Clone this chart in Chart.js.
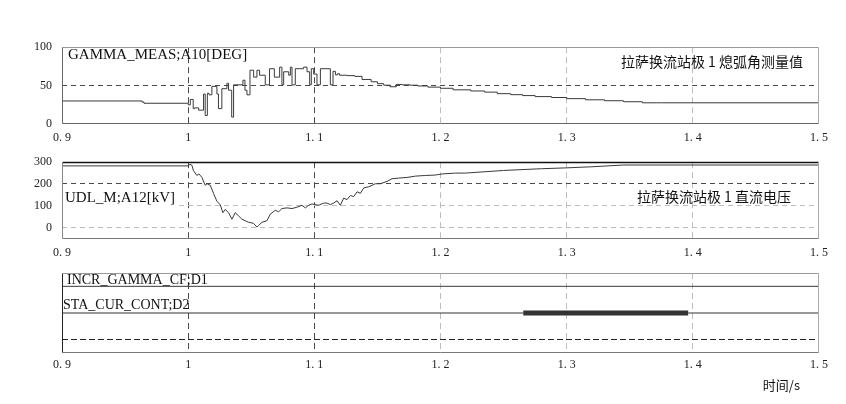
<!DOCTYPE html>
<html>
<head>
<meta charset="utf-8">
<script src="https://cdn.jsdelivr.net/npm/chart.js@4.4.0/dist/chart.umd.min.js"></script>
<style>
  body { margin: 0; background: #fff; }
  #wrap { position: relative; width: 846px; height: 404px; }
  .panel { position: absolute; left: 0; width: 846px; }
</style>
</head>
<body>
<div id="wrap">
  <div class="panel" style="top:30px;height:120px"><canvas id="cGamma"></canvas></div>
  <div class="panel" style="top:145px;height:120px"><canvas id="cUdl"></canvas></div>
  <div class="panel" style="top:260px;height:144px"><canvas id="cDig"></canvas></div>
</div>
<script>
// 横轴 (时间 s)
const xTicks = [0.9, 1.0, 1.1, 1.2, 1.3, 1.4, 1.5];
const xTickLabels = ['0. 9', '1', '1. 1', '1. 2', '1. 3', '1. 4', '1. 5'];

// 熄弧角测量值 GAMMA_MEAS [DEG] (阶梯信号)
const gammaT = [0.900, 0.9635, 0.9650, 1.0000, 1.0017, 1.0040, 1.0050, 1.0083, 1.0122, 1.0135,
                1.0152, 1.0165, 1.0188, 1.0228, 1.0240, 1.0267, 1.0307, 1.0320, 1.0345, 1.0360,
                1.0434, 1.0450, 1.0466, 1.0490, 1.0519, 1.0545, 1.0566, 1.0611, 1.0645, 1.0683,
                1.0725, 1.0743, 1.0757, 1.0797, 1.0810, 1.0823, 1.0849, 1.0915, 1.0942, 1.0963,
                1.0976, 1.0995, 1.1021, 1.1048, 1.1127, 1.1148, 1.1167, 1.1185, 1.1200, 1.1260,
                1.1320, 1.1378, 1.145, 1.150, 1.155, 1.160, 1.165, 1.1696, 1.176, 1.182,
                1.190, 1.200, 1.210, 1.224, 1.235, 1.245, 1.2556, 1.265, 1.275, 1.288,
                1.300, 1.315, 1.330, 1.345, 1.360, 1.375, 1.500];
const gammaV = [28.5, 30, 28.5, 27, 25, 32, 20, 21, 18, 39,
                11, 40, 38, 49, 39, 20, 46, 53, 44, 9,
                51, 57, 44, 38, 70, 61, 70, 63.5, 51, 72,
                61, 74, 51, 68, 63.5, 74, 51, 72, 74, 68,
                51, 72, 65, 51, 72, 51, 68.6, 64, 65.5, 63.5,
                63, 62, 58, 55, 52.5, 50.5, 48.5, 51.5, 51, 50.5,
                49.5, 48, 46.5, 44.5, 43, 41.5, 39.5, 38.2, 37, 35.7,
                34.5, 33, 31.5, 30.3, 29, 27.6, 27.6];
const gammaTicks = [0, 50, 100];

// 直流电压 UDL_M [kV]
const udlT = [0.900, 1.000, 1.0015, 1.003, 1.0042, 1.0069, 1.0085, 1.0108, 1.0135, 1.015,
              1.0175, 1.0201, 1.0228, 1.0254, 1.0275, 1.0294, 1.032, 1.0347, 1.0373, 1.040,
              1.0426, 1.0452, 1.0479, 1.0518, 1.0545, 1.0558, 1.0585, 1.0624, 1.0651, 1.069,
              1.0717, 1.0743, 1.0783, 1.0823, 1.0862, 1.0902, 1.0929, 1.0955, 1.0981, 1.1008,
              1.1034, 1.1074, 1.110, 1.1127, 1.1153, 1.118, 1.1206, 1.1233, 1.1259, 1.1286,
              1.1312, 1.1339, 1.1365, 1.1392, 1.1431, 1.1458, 1.1484, 1.1524, 1.1577, 1.1616,
              1.1669, 1.1735, 1.1802, 1.1881, 1.196, 1.2013, 1.2119, 1.2198, 1.250, 1.280,
              1.300, 1.320, 1.345, 1.500];
const udlV = [283, 283, 290, 286, 261, 239, 246, 231, 194, 201,
              194, 157, 120, 105, 68, 83, 68, 38, 68, 53,
              38, 31, 24, 19, 2, 9, 24, 31, 61, 79,
              72, 87, 90, 87, 93, 102, 90, 102, 108, 105,
              102, 112, 112, 105, 112, 123, 102, 135, 128, 147,
              142, 164, 157, 182, 187, 194, 201, 201, 212, 224,
              227, 230, 236, 239, 241, 246, 250, 250, 262, 270,
              274, 279, 287, 287];
const udlTicks = [0, 100, 200, 300];

// 开关量 D1 / D2
const incrGammaT = [0.9, 1.5];
const incrGammaS = [0, 0];
const staCurT = [0.9, 1.2656, 1.3963, 1.5];
const staCurS = [0, 1, 0, 0];

const serif = "'Liberation Serif', 'Noto Sans CJK SC', serif";
const cjk = "'Noto Sans CJK SC', sans-serif";
const tickFont = { family: serif, size: 12 };
const darkGrid = '#4a4a4a';
const lightGrid = '#bdbdbd';

const pts = (ts, vs) => ts.map((t, i) => ({ x: t, y: vs[i] }));

// 边框
const framePlugin = {
  id: 'frame',
  afterDatasetsDraw(chart, args, o) {
    const { ctx, chartArea: a } = chart;
    const L = Math.round(a.left) + 0.5, R = Math.round(a.right) - 0.5;
    const T = Math.round(a.top) + 0.5, B = Math.round(a.bottom) - 0.5;
    const line = (x1, y1, x2, y2, c, w) => {
      ctx.strokeStyle = c; ctx.lineWidth = w || 1;
      ctx.beginPath(); ctx.moveTo(x1, y1); ctx.lineTo(x2, y2); ctx.stroke();
    };
    ctx.save();
    line(L, T, R, T, o.top || '#999', o.topWidth);
    line(R, T, R, B, o.right || '#aaa');
    line(L, B, R, B, o.bottom || '#777');
    line(L, T, L, B, o.left || '#777');
    ctx.restore();
  }
};

// 面板文字
const textPlugin = {
  id: 'panelText',
  beforeDatasetsDraw(chart, args, o) {
    const { ctx, chartArea: a } = chart;
    ctx.save();
    (o.items || []).forEach(it => {
      ctx.font = it.font;
      ctx.textBaseline = 'middle';
      const w = ctx.measureText(it.text).width;
      const x = it.fromRight ? a.right - it.dx - w : a.left + it.dx;
      const y = a.top + it.dy;
      if (it.bg) {
        ctx.fillStyle = '#fff';
        ctx.fillRect(x - 2, y - 9, w + 4, 18);
      }
      ctx.fillStyle = '#111';
      ctx.textAlign = 'left';
      ctx.fillText(it.text, x, y);
    });
    ctx.restore();
  }
};

function xGridColor(c) {
  const v = c.tick ? c.tick.value : null;
  if (v === null || Math.abs(v - 0.9) < 1e-6 || Math.abs(v - 1.5) < 1e-6) return 'rgba(0,0,0,0)';
  return v < 1.15 ? darkGrid : lightGrid;
}

function xAxis(h, pad) {
  return {
    type: 'linear', min: 0.9, max: 1.5,
    afterBuildTicks: s => { s.ticks = xTicks.map(v => ({ value: v })); },
    afterFit: s => { s.height = h; },
    ticks: { callback: (v, i) => xTickLabels[i], font: tickFont, color: '#222', padding: pad, maxRotation: 0, autoSkip: false },
    grid: { color: xGridColor, drawTicks: false },
    border: { display: false, dash: [6, 4] }
  };
}

function yAxis(min, max, ticks, colorFn, showLabels, dash) {
  return {
    min: min, max: max,
    afterBuildTicks: s => { s.ticks = ticks.map(v => ({ value: v })); },
    afterFit: s => { s.width = 62; },
    ticks: { display: showLabels, font: tickFont, color: '#222', padding: 10 },
    grid: { color: colorFn, drawTicks: false },
    border: { display: false, dash: dash || [5, 4] }
  };
}

function baseOptions(padTop, scales, frame, items) {
  return {
    responsive: true,
    maintainAspectRatio: false,
    animation: false,
    layout: { padding: { top: padTop, right: 27, left: 0, bottom: 0 } },
    elements: { point: { radius: 0 }, line: { tension: 0 } },
    scales: scales,
    plugins: {
      legend: { display: false },
      tooltip: { enabled: false },
      frame: frame,
      panelText: { items: items }
    }
  };
}

// 图 1：熄弧角
new Chart(document.getElementById('cGamma'), {
  type: 'line',
  data: {
    datasets: [{
      data: pts(gammaT, gammaV),
      borderColor: '#3a3a3a',
      borderWidth: 1,
      stepped: 'after'
    }]
  },
  options: baseOptions(14, {
    x: xAxis(26, 7),
    y: yAxis(0, 100, gammaTicks, c => (c.tick && c.tick.value === 50) ? darkGrid : 'rgba(0,0,0,0)', true)
  }, { top: '#999', right: '#aaa', bottom: '#666', left: '#666' }, [
    { text: 'GAMMA_MEAS;A10[DEG]', font: '15px ' + serif, dx: 6, dy: 8 },
    { text: '拉萨换流站极 1 熄弧角测量值', font: '14px ' + cjk, dx: 16, dy: 14, fromRight: true }
  ]),
  plugins: [framePlugin, textPlugin]
});

// 图 2：直流电压
new Chart(document.getElementById('cUdl'), {
  type: 'line',
  data: {
    datasets: [{
      data: pts(udlT, udlV),
      borderColor: '#3a3a3a',
      borderWidth: 1
    }]
  },
  options: baseOptions(14, {
    x: xAxis(26, 7),
    y: yAxis(-53, 300, udlTicks, c => {
      const v = c.tick ? c.tick.value : null;
      if (v === 200) return darkGrid;
      if (v === 0 || v === 100) return lightGrid;
      return 'rgba(0,0,0,0)';
    }, true)
  }, { top: '#111', topWidth: 1.6, right: '#aaa', bottom: '#777', left: '#888' }, [
    { text: 'UDL_M;A12[kV]', font: '15px ' + serif, dx: 3, dy: 36, bg: true },
    { text: '拉萨换流站极 1 直流电压', font: '14px ' + cjk, dx: 28, dy: 34, fromRight: true }
  ]),
  plugins: [framePlugin, textPlugin]
});

// 图 3：开关量
new Chart(document.getElementById('cDig'), {
  type: 'line',
  data: {
    datasets: [{
      data: incrGammaT.map((t, i) => ({ x: t, y: 5 + incrGammaS[i] * 0 })),
      borderColor: '#3a3a3a',
      borderWidth: 1
    }, {
      data: staCurT.map(t => ({ x: t, y: 3 })),
      borderColor: '#333',
      borderWidth: 1,
      borderCapStyle: 'butt',
      segment: {
        borderWidth: c => staCurS[c.p0DataIndex] ? 5 : 1
      }
    }]
  },
  options: baseOptions(13, {
    x: xAxis(51, 5),
    y: yAxis(0, 6, [1], () => '#222', false, [6, 3])
  }, { top: '#999', right: '#aaa', bottom: '#777', left: '#222' }, [
    { text: 'INCR_GAMMA_CF;D1', font: '14px ' + serif, dx: 5, dy: 7.5 },
    { text: 'STA_CUR_CONT;D2', font: '14px ' + serif, dx: 1, dy: 32 },
    { text: '时间/s', font: '13px ' + cjk, dx: 19, dy: 112, fromRight: true }
  ]),
  plugins: [framePlugin, textPlugin]
});
</script>
</body>
</html>
